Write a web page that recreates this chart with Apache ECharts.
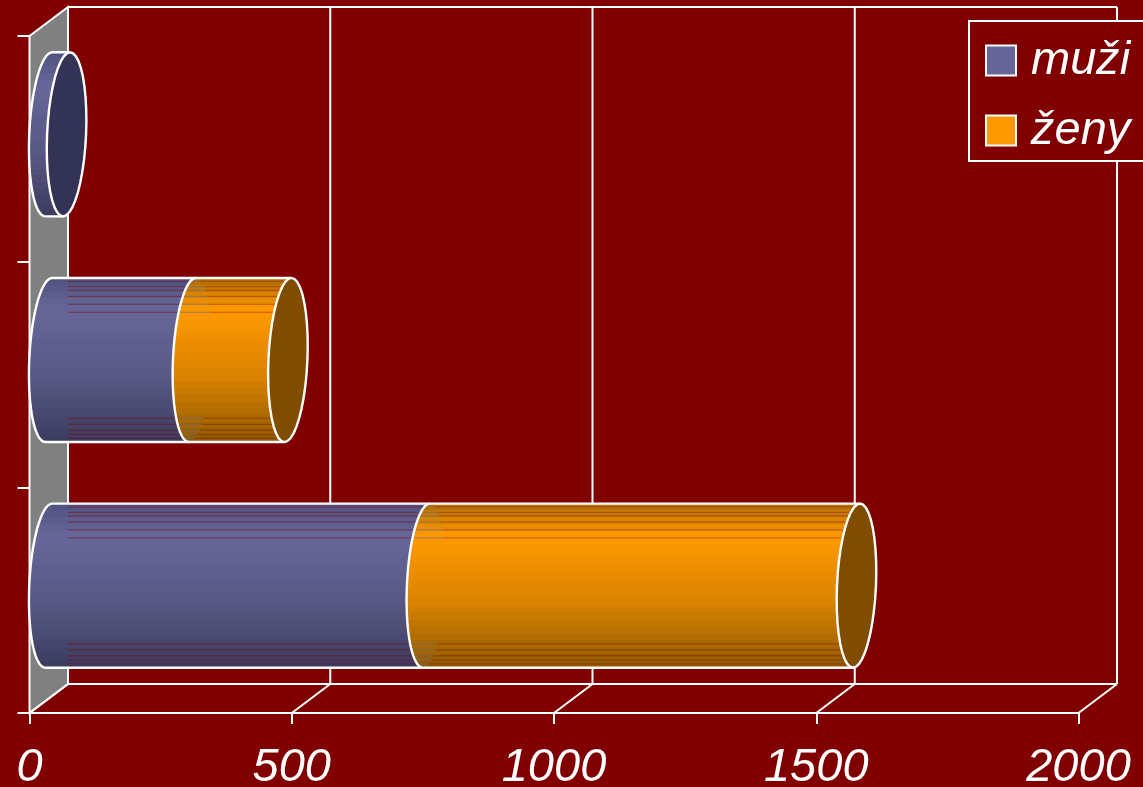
<!DOCTYPE html>
<html>
<head>
<meta charset="utf-8">
<style>html,body{margin:0;padding:0;background:#800000}#c{width:1143px;height:787px}</style>
<script src="https://cdn.jsdelivr.net/npm/echarts@6/dist/echarts.min.js"></script>
</head>
<body>
<div id="c"></div>
<script>
// Data (category order is bottom to top, as in the picture)
var categories = ['1', '2', '3'];
var muzi = [720, 274, 34];
var zeny = [820, 182, 0];
var ticks = [0, 500, 1000, 1500, 2000];
var seriesNames = ['muži', 'ženy'];

// Appearance
var BG = '#800000', WHITE = '#ffffff', WALL = '#808080';
var DX = 38.5, DY = -29;
var FONT = '"Liberation Sans", Arial, sans-serif';
var BLUE = {base:'#666699', cap:'#333355', seam:'rgba(128,0,0,0.5)',
  stops:[[0,'#525280'],[0.2,'#666699'],[0.6,'#585884'],[1,'#3c3c60']]};
var ORANGE = {base:'#FF9900', cap:'#804D00', seam:'rgba(128,0,0,0.42)',
  stops:[[0,'#ad6c00'],[0.2,'#FF9900'],[0.6,'#da8300'],[1,'#8e5a00']]};
var RX = 19.5, SKEW = 3.5, BAND = 0.727, STEPS = 24;
var SEAMS = [0.02, 0.053, 0.075, 0.112, 0.16, 0.209, 0.855, 0.892, 0.928, 0.953, 0.977];

function ell(cx, cy, ry, t) {
  return [cx + RX * Math.cos(t) + SKEW * Math.sin(t), cy - ry * Math.sin(t)];
}
function arc(cx, cy, ry, a, b) {
  var pts = [], n = 40;
  for (var i = 0; i <= n; i++) pts.push(ell(cx, cy, ry, a + (b - a) * i / n));
  return pts;
}
function hex(c) { return [1, 3, 5].map(function (i) { return parseInt(c.substr(i, 2), 16); }); }
function shade(stops, f) {
  for (var i = 1; i < stops.length; i++) {
    if (f <= stops[i][0]) {
      var a = hex(stops[i - 1][1]), b = hex(stops[i][1]);
      var k = (f - stops[i - 1][0]) / (stops[i][0] - stops[i - 1][0]);
      return 'rgb(' + a.map(function (v, j) { return Math.round(v + (b[j] - v) * k); }).join(',') + ')';
    }
  }
  return stops[stops.length - 1][1];
}
function grad(c) {
  var cs = [];
  for (var i = 0; i < STEPS; i++) {
    var col = shade(c.stops, (i + 0.5) / STEPS);
    cs.push({offset:i / STEPS, color:col}, {offset:(i + 1) / STEPS, color:col});
  }
  return {type:'linear', x:0, y:0, x2:0, y2:1, colorStops:cs};
}
function cylinder(api, vals, isMale) {
  var base = vals[0], val = vals[1], idx = vals[2], hasNext = vals[3];
  if (val <= 0) return {type:'group', children:[]};
  var pal = isMale ? BLUE : ORANGE;
  var p0 = api.coord([base, idx]), p1 = api.coord([base + val, idx]);
  var ry = api.size([0, 1])[1] * BAND / 2;
  var cy = p0[1] + DY / 2, x0 = p0[0] + DX / 2, x1 = p1[0] + DX / 2;
  var wallX = api.coord([0, idx])[0] + DX;
  var front = arc(x0, cy, ry, Math.PI / 2, Math.PI * 1.5);
  var endFront = arc(x1, cy, ry, Math.PI * 1.5, Math.PI / 2);
  var kids = [];
  kids.push({type:'polygon', shape:{points:front.concat(endFront)},
    style:{fill:grad(pal), stroke:null}});
  SEAMS.forEach(function (f) {
    var s = 1 - 2 * f, t = Math.asin(s), y = cy - ry * s;
    var left = ell(x0, cy, ry, Math.PI - t)[0], back = ell(x0, cy, ry, t)[0];
    var end = ell(x1, cy, ry, Math.PI - t)[0];
    var from = isMale ? Math.max(left, wallX) : back;
    if (!isMale) kids.push({type:'line', shape:{x1:left, y1:y, x2:back, y2:y},
      style:{stroke:'rgba(102,102,153,0.6)', lineWidth:1}});
    if (end > from) kids.push({type:'line', shape:{x1:from, y1:y, x2:end, y2:y},
      style:{stroke:pal.seam, lineWidth:1}});
  });
  kids.push({type:'polyline', shape:{points:[endFront[0]].concat(front.slice().reverse(), [endFront[40]])},
    style:{fill:null, stroke:WHITE, lineWidth:2.4}});
  if (!hasNext) {
    kids.push({type:'polygon', shape:{points:arc(x1, cy, ry, 0, Math.PI * 2)},
      style:{fill:pal.cap, stroke:WHITE, lineWidth:2.4}});
  }
  return {type:'group', children:kids};
}

var L = {stroke:WHITE, lineWidth:2};
function wallItem(params, api) {
  var v = api.value(0), top = 2, kids = [];
  var yBot = api.coord([v, 0])[1] + api.size([0, 1])[1] / 2;
  var yTop = api.coord([v, top])[1] - api.size([0, 1])[1] / 2;
  var x = api.coord([v, 0])[0];
  if (v === ticks[0]) {
    kids.push({type:'polygon', shape:{points:[[x, yTop], [x + DX, yTop + DY], [x + DX, yBot + DY], [x, yBot]]},
      style:{fill:WALL, stroke:WHITE, lineWidth:2}});
    var xEnd = api.coord([ticks[ticks.length - 1], 0])[0];
    kids.push({type:'line', shape:{x1:x + DX, y1:yTop + DY, x2:xEnd + DX, y2:yTop + DY}, style:L});
    kids.push({type:'line', shape:{x1:x + DX, y1:yBot + DY, x2:xEnd + DX, y2:yBot + DY}, style:L});
  } else {
    kids.push({type:'line', shape:{x1:x + DX, y1:yTop + DY, x2:x + DX, y2:yBot + DY}, style:L});
  }
  kids.push({type:'line', shape:{x1:x, y1:yBot, x2:x + DX, y2:yBot + DY}, style:L});
  return {type:'group', children:kids};
}

var option = {
  backgroundColor: BG,
  animation: false,
  grid: {left:29.5, right:64.5, top:36, bottom:74, outerBoundsMode:'none'},
  xAxis: {
    type:'value', min:0, max:2000, interval:500,
    splitLine:{show:false},
    axisLine:{show:true, onZero:false, lineStyle:{color:WHITE, width:2}},
    axisTick:{show:true, length:11, lineStyle:{color:WHITE, width:2}},
    axisLabel:{color:WHITE, fontFamily:FONT, fontStyle:'italic', fontSize:47, margin:31,
      formatter:function (v) { return String(v); }}
  },
  yAxis: {
    type:'category', data:categories,
    axisLine:{show:true, lineStyle:{color:WHITE, width:2}},
    axisTick:{show:true, length:12, lineStyle:{color:WHITE, width:2}},
    axisLabel:{show:false},
    splitLine:{show:false}
  },
  legend: {
    data:[{name:seriesNames[0], itemStyle:{color:BLUE.base}}, {name:seriesNames[1], itemStyle:{color:ORANGE.base}}],
    orient:'vertical', left:969, top:21,
    padding:[16, 30, 7, 16], itemGap:23, itemWidth:30, itemHeight:30,
    icon:'rect', selectedMode:false,
    backgroundColor:BG, borderColor:WHITE, borderWidth:2,
    itemStyle:{borderColor:WHITE, borderWidth:2},
    textStyle:{color:WHITE, fontFamily:FONT, fontStyle:'italic', fontSize:47, padding:[2, 0, 0, 10]}
  },
  series: [
    {type:'custom', name:'walls', silent:true, clip:false, z:1, coordinateSystem:'cartesian2d',
      renderItem:wallItem, encode:{x:0}, data:ticks.map(function (t) { return [t]; })},
    {type:'custom', name:seriesNames[0], clip:false, z:2, itemStyle:{color:BLUE.base},
      renderItem:function (p, api) {
        return cylinder(api, [api.value(0), api.value(1), api.value(2), api.value(3)], true);
      },
      encode:{x:1, y:2},
      data:muzi.map(function (v, i) { return [0, v, i, zeny[i] > 0 ? 1 : 0]; })},
    {type:'custom', name:seriesNames[1], clip:false, z:3, itemStyle:{color:ORANGE.base},
      renderItem:function (p, api) {
        return cylinder(api, [api.value(0), api.value(1), api.value(2), 0], false);
      },
      encode:{x:1, y:2},
      data:zeny.map(function (v, i) { return [muzi[i], v, i]; })}
  ]
};
var chart = echarts.init(document.getElementById('c'), null, {renderer:'canvas', width:1143, height:787});
chart.setOption(option);
</script>
</body>
</html>
